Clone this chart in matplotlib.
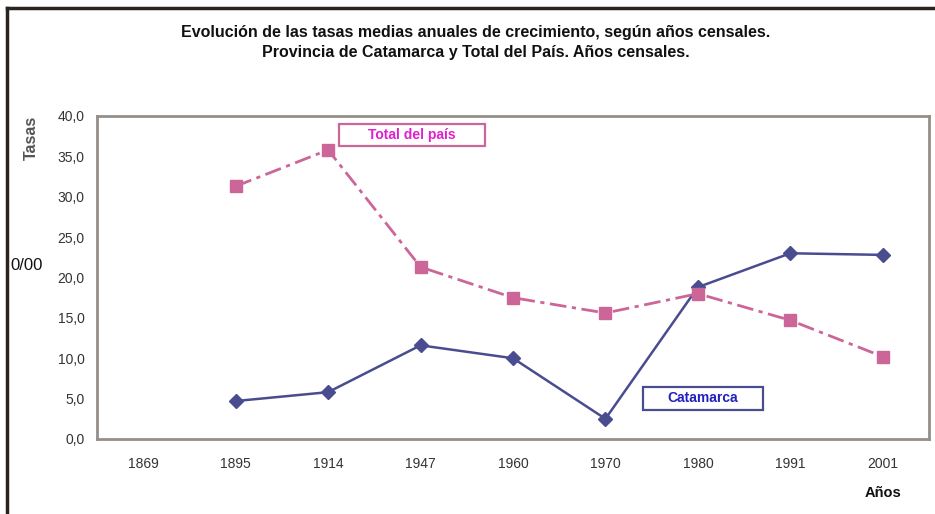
import matplotlib.pyplot as plt
from matplotlib.patches import Rectangle
import numpy as np

# Datos (tasas por mil)
anios = ['1869', '1895', '1914', '1947', '1960', '1970', '1980', '1991', '2001']
catamarca = [np.nan, 4.7, 5.8, 11.6, 10.0, 2.5, 18.8, 23.0, 22.8]
total_pais = [np.nan, 31.3, 35.8, 21.3, 17.5, 15.6, 18.0, 14.7, 10.2]
y_ticks = [0, 5, 10, 15, 20, 25, 30, 35, 40]

color_cat = '#4A4C90'
color_tot = '#CC6699'

plt.rcParams['font.family'] = ['Liberation Sans', 'DejaVu Sans']

W, H = 935, 514
fig = plt.figure(figsize=(W / 100, H / 100), dpi=100)
ax = fig.add_axes([97 / W, 1 - 439 / H, 832 / W, 323 / H])

x = np.arange(len(anios))
ax.plot(x, catamarca, color=color_cat, lw=1.8, marker='D', ms=7,
        markerfacecolor=color_cat, markeredgecolor=color_cat)
ax.plot(x, total_pais, color=color_tot, lw=2, ls=(0, (6, 2, 1.5, 2)),
        marker='s', ms=9, markerfacecolor=color_tot, markeredgecolor=color_tot)

ax.set_xlim(-0.5, len(anios) - 0.5)
ax.set_ylim(0, 40)
ax.set_xticks(x)
ax.set_xticklabels(anios)
ax.set_yticks(y_ticks)
ax.set_yticklabels([f'{v:.1f}'.replace('.', ',') for v in y_ticks])
ax.tick_params(length=0, labelsize=10, colors='#333333')
ax.tick_params(axis='x', pad=13)
ax.tick_params(axis='y', pad=9)
for s in ax.spines.values():
    s.set_color('#948f88')
    s.set_linewidth(2)


# Etiquetas de las series en recuadros
def etiqueta(x0, y0, x1, y1, texto, color_texto, color_borde):
    fig.add_artist(Rectangle((x0 / W, 1 - y1 / H), (x1 - x0) / W, (y1 - y0) / H,
                             transform=fig.transFigure, fc='white', ec=color_borde, lw=1.6))
    fig.text((x0 + x1) / 2 / W, 1 - (y0 + y1) / 2 / H, texto, color=color_texto,
             fontsize=10, fontweight='bold', ha='center', va='center')


etiqueta(339, 124, 485, 146, 'Total del país', '#E020D0', color_tot)
etiqueta(643, 387, 763, 410, 'Catamarca', '#2020C0', color_cat)

# Títulos
fig.text(476 / W, 1 - 32 / H,
         'Evolución de las tasas medias anuales de crecimiento, según años censales.',
         ha='center', va='center', fontsize=11.5, fontweight='bold', color='#111111')
fig.text(476 / W, 1 - 53 / H,
         'Provincia de Catamarca y Total del País. Años censales.',
         ha='center', va='center', fontsize=11.5, fontweight='bold', color='#111111')
fig.text(31 / W, 1 - 138 / H, 'Tasas', rotation=90, ha='center', va='center',
         fontsize=11.5, fontweight='bold', color='#555555')
fig.text(10 / W, 1 - 265 / H, '0/00', ha='left', va='center', fontsize=12,
         color='#111111')
fig.text(883 / W, 1 - 493 / H, 'Años', ha='center', va='center', fontsize=10.5,
         fontweight='bold', color='#111111')

# Borde superior e izquierdo del recuadro
fig.add_artist(plt.Line2D([7 / W, 1], [1 - 8 / H, 1 - 8 / H], color='#2a2420', lw=2.5,
                          transform=fig.transFigure))
fig.add_artist(plt.Line2D([7 / W, 7 / W], [1 - 8 / H, 0], color='#2a2420', lw=2.5,
                          transform=fig.transFigure))

fig.savefig('out.png', dpi=100)
